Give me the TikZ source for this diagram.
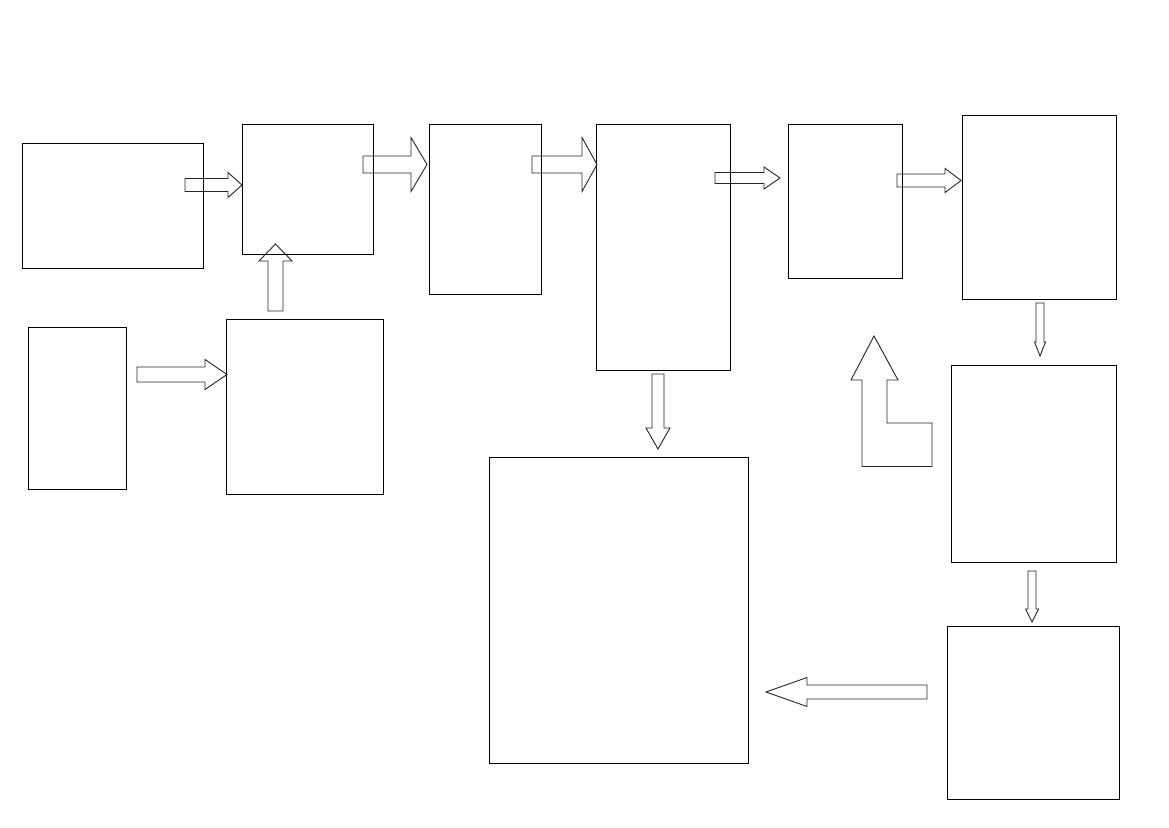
\documentclass[tikz,border=0pt]{standalone}
\newcommand\harrow[6]{% x0, xbase, xtip, yc, half body, half head
  \draw[blockarrow] (#1,#4-#5) -- (#2,#4-#5) -- (#2,#4-#6) -- (#3,#4) -- (#2,#4+#6) -- (#2,#4+#5) -- (#1,#4+#5) -- cycle;}
\newcommand\varrow[6]{% y0, ybase, ytip, xc, half body, half head
  \draw[blockarrow] (#4-#5,#1) -- (#4-#5,#2) -- (#4-#6,#2) -- (#4,#3) -- (#4+#6,#2) -- (#4+#5,#2) -- (#4+#5,#1) -- cycle;}
\tikzset{
  box/.style={draw=black, line width=0.9pt, inner sep=0pt, outer sep=0pt, anchor=north west},
  blockarrow/.style={draw=black!85, line width=0.9pt, line join=miter}
}
\begin{document}
\begin{tikzpicture}[x=1pt,y=-1pt]
\useasboundingbox[fill=white] (0,0) rectangle (1169,827);
% boxes
\node[box, minimum width=181pt, minimum height=125pt] (b1) at (22,143) {};
\node[box, minimum width=131pt, minimum height=130pt] (b2) at (242,124) {};
\node[box, minimum width=112pt, minimum height=170pt] (b3) at (429,124) {};
\node[box, minimum width=134pt, minimum height=246pt] (b4) at (596,124) {};
\node[box, minimum width=114pt, minimum height=154pt] (b5) at (788,124) {};
\node[box, minimum width=154pt, minimum height=184pt] (b6) at (962,115) {};
\node[box, minimum width=98pt, minimum height=162pt] (b7) at (28,327) {};
\node[box, minimum width=157pt, minimum height=175pt] (b8) at (226,319) {};
\node[box, minimum width=259pt, minimum height=306pt] (b9) at (489,457) {};
\node[box, minimum width=165pt, minimum height=197pt] (b10) at (951,365) {};
\node[box, minimum width=172pt, minimum height=173pt] (b11) at (947,626) {};
% block arrows
\harrow{185}{228}{242}{185}{6.5}{12.5}
\harrow{363}{411}{427}{164.5}{8.5}{27}
\harrow{532}{582}{597}{164.5}{8.5}{27}
\harrow{715}{764}{780}{178}{5.5}{11}
\harrow{897}{945}{961}{180.5}{6.5}{12}
\harrow{137}{205}{227}{374.5}{7.5}{15}
\harrow{927}{807}{766}{692}{7}{14.5}
\varrow{311}{261}{244}{275.5}{7.5}{16.5}
\varrow{374}{428}{449}{658}{6}{12}
\varrow{303}{342}{356}{1040}{4}{5.5}
\varrow{571}{609}{622}{1032}{4}{6.5}
% bent up arrow
\draw[blockarrow] (874,336) -- (898,380) -- (887,380) -- (887,423) -- (932,423) -- (932,466.5)
  -- (862,466.5) -- (862,380) -- (851,380) -- cycle;
\end{tikzpicture}
\end{document}
